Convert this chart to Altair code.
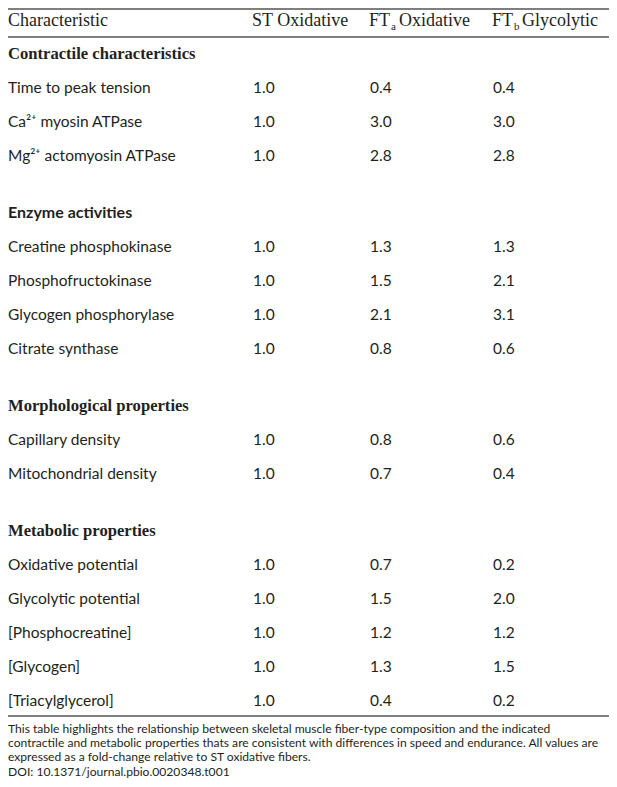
import altair as alt
import pandas as pd

# ---------------- data ----------------
column_heads = ["ST Oxidative", "FT", "FT"]
column_subs = ["", "a", "b"]
column_tails = ["", "Oxidative", "Glycolytic"]

sections = ["Contractile characteristics", "Enzyme activities",
            "Morphological properties", "Metabolic properties"]
section_sans = [False, True, False, False]

contractile_rows = ["Time to peak tension", "Ca²⁺ myosin ATPase", "Mg²⁺ actomyosin ATPase"]
contractile_st = [1.0, 1.0, 1.0]
contractile_fta = [0.4, 3.0, 2.8]
contractile_ftb = [0.4, 3.0, 2.8]

enzyme_rows = ["Creatine phosphokinase", "Phosphofructokinase",
               "Glycogen phosphorylase", "Citrate synthase"]
enzyme_st = [1.0, 1.0, 1.0, 1.0]
enzyme_fta = [1.3, 1.5, 2.1, 0.8]
enzyme_ftb = [1.3, 2.1, 3.1, 0.6]

morph_rows = ["Capillary density", "Mitochondrial density"]
morph_st = [1.0, 1.0]
morph_fta = [0.8, 0.7]
morph_ftb = [0.6, 0.4]

metab_rows = ["Oxidative potential", "Glycolytic potential", "[Phosphocreatine]",
              "[Glycogen]", "[Triacylglycerol]"]
metab_st = [1.0, 1.0, 1.0, 1.0, 1.0]
metab_fta = [0.7, 1.5, 1.2, 1.3, 0.4]
metab_ftb = [0.2, 2.0, 1.2, 1.5, 0.2]

footnote = [
    "This table highlights the relationship between skeletal muscle fiber-type composition and the indicated",
    "contractile and metabolic properties thats are consistent with differences in speed and endurance. All values are",
    "expressed as a fold-change relative to ST oxidative fibers.",
    "DOI: 10.1371/journal.pbio.0020348.t001",
]

# ---------------- layout ----------------
W, H = 601, 771
LABEL_X = 8
COL_X = [253, 370, 493]
HEADER_Y = 21
FIRST_SECTION_Y = 54
ROW = 34
GAP = 57
RULE_X0, RULE_X1 = 8, 612
FOOT_Y0, FOOT_STEP = 729, 14.2

blocks = [
    (sections[0], contractile_rows, [contractile_st, contractile_fta, contractile_ftb]),
    (sections[1], enzyme_rows, [enzyme_st, enzyme_fta, enzyme_ftb]),
    (sections[2], morph_rows, [morph_st, morph_fta, morph_ftb]),
    (sections[3], metab_rows, [metab_st, metab_fta, metab_ftb]),
]

sec_serif, sec_sans, lab_recs, val_recs = [], [], [], []
y = FIRST_SECTION_Y
for bi, (sec, rows, cols) in enumerate(blocks):
    if bi > 0:
        y += GAP
    (sec_sans if section_sans[bi] else sec_serif).append({"text": sec, "x": LABEL_X, "y": y})
    for ri, r in enumerate(rows):
        y += ROW
        lab_recs.append({"text": r, "x": LABEL_X, "y": y})
        for ci in range(3):
            val_recs.append({"v": cols[ci][ri], "x": COL_X[ci], "y": y})
last_row_y = y

sec_serif_df = pd.DataFrame(sec_serif)
sec_sans_df = pd.DataFrame(sec_sans)
lab_df = pd.DataFrame(lab_recs)
val_df = pd.DataFrame(val_recs)

head_main = pd.DataFrame([{"text": "Characteristic", "x": LABEL_X, "y": HEADER_Y}] +
                         [{"text": column_heads[i], "x": COL_X[i] - 1, "y": HEADER_Y} for i in range(3)])
head_sub = pd.DataFrame([{"text": column_subs[i], "x": COL_X[i] + 21, "y": HEADER_Y + 6} for i in (1, 2)])
head_tail = pd.DataFrame([{"text": column_tails[i], "x": COL_X[i] + 29, "y": HEADER_Y} for i in (1, 2)])

rule_df = pd.DataFrame({"x": [RULE_X0] * 3, "x2": [RULE_X1] * 3,
                        "y": [9, 37, last_row_y + 15]})
foot_df = pd.DataFrame({"text": footnote, "x": [LABEL_X] * 4,
                        "y": [FOOT_Y0 + i * FOOT_STEP for i in range(4)]})

xs = alt.Scale(domain=[8, 8 + W], range=[0, W])
ys = alt.Scale(domain=[8, 8 + H], range=[0, H])
X = alt.X("x:Q", scale=xs, axis=None)
Y = alt.Y("y:Q", scale=ys, axis=None)

SERIF = "Liberation Serif"
SANS = "Lato"
INK = "#231f20"


def txt(df, font, size, weight="normal", field="text", fmt=None):
    enc_text = alt.Text(f"{field}:Q", format=fmt) if fmt else alt.Text(f"{field}:N")
    return alt.Chart(df).mark_text(
        align="left", baseline="middle", font=font, fontSize=size,
        fontWeight=weight, color=INK
    ).encode(x=X, y=Y, text=enc_text)


rules = alt.Chart(rule_df).mark_rule(color="#555555", strokeWidth=1.6).encode(
    x=X, x2="x2:Q", y=Y)

chart = alt.layer(
    rules,
    txt(head_main, SERIF, 18),
    txt(head_sub, SERIF, 11),
    txt(head_tail, SERIF, 18),
    txt(sec_serif_df, SERIF, 16.6, "bold"),
    txt(sec_sans_df, SANS, 16, "bold"),
    txt(lab_df, SANS, 15.5),
    txt(val_df, SANS, 15.5, field="v", fmt=".1f"),
    txt(foot_df, SANS, 12.1),
).properties(
    width=W, height=H, padding=0, autosize=alt.AutoSizeParams(type="none")
).configure_view(stroke=None)

chart.save("out.html", embed_options={"renderer": "svg", "actions": False})
